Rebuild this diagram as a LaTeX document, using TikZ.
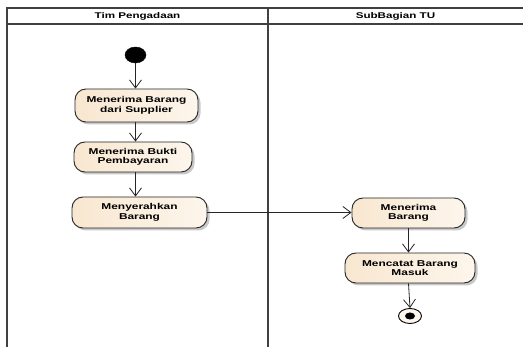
\documentclass[tikz,border=0pt]{standalone}
\usepackage{fontspec}
\setmainfont{Liberation Sans}
\newfontfamily\lab[FakeStretch=1.4]{Liberation Sans Bold}
\usetikzlibrary{arrows.meta,shadows,shapes.geometric}
\definecolor{lane}{HTML}{404040}
\definecolor{actfill}{HTML}{F8E7D0}
\definecolor{actlight}{HTML}{FDF6EC}
\tikzset{
  lanerule/.style={draw=lane, line width=1.6pt},
  action/.style={draw=black!85, line width=0.9pt, rounded corners=11pt,
    left color=actfill, right color=actlight,
    drop shadow={shadow xshift=2.5pt, shadow yshift=-2.5pt, fill=black!35, opacity=0.6},
    align=center, inner sep=0pt, font=\lab\fontsize{8.5}{9.6}\selectfont},
  flow/.style={draw=black!85, line width=0.8pt,
    -{Straight Barb[length=8pt,width=12pt,line width=0.8pt]}},
  header/.style={font=\lab\fontsize{8.3}{9}\selectfont}
}
\begin{document}
\begin{tikzpicture}[x=1pt,y=-1pt]
\useasboundingbox (0,0) rectangle (523,347);
\fill[white] (0,0) rectangle (523,347);

% swimlane frame
\coordinate (tl) at (7,8);
\coordinate (tr) at (523,8);
\coordinate (hl) at (7,24);
\coordinate (hr) at (523,24);
\coordinate (bl) at (7,347);
\coordinate (dt) at (268,8);
\coordinate (db) at (268,347);
\draw[lanerule] (bl) -- (tl) -- (tr);
\draw[lanerule] (hl) -- (hr);
\draw[lanerule] (dt) -- (db);
\node[header] (lane1) at (137.5,16) {Tim Pengadaan};
\node[header] (lane2) at (395.5,16) {SubBagian TU};

% initial node
\node[ellipse, fill=black, draw=black, minimum width=21pt, minimum height=16pt, inner sep=0pt] (start) at (135.5,55) {};

% actions
\node[action, minimum width=123pt, minimum height=33pt] (a1) at (136.5,105.5) {Menerima Barang\\dari Supplier};
\node[action, minimum width=118pt, minimum height=30pt] (a2) at (133,157) {Menerima Bukti\\Pembayaran};
\node[action, minimum width=135pt, minimum height=31pt] (a3) at (139.5,212.5) {Menyerahkan\\Barang};
\node[action, minimum width=113pt, minimum height=30pt] (a4) at (408.5,213) {Menerima\\Barang};
\node[action, minimum width=130pt, minimum height=30pt] (a5) at (410,268) {Mencatat Barang\\Masuk};

% final node
\node[ellipse, draw=black, line width=0.9pt, fill=actlight, minimum width=23pt, minimum height=15pt, inner sep=0pt] (end) at (410,316) {};
\node[ellipse, fill=black, minimum width=10pt, minimum height=7pt, inner sep=0pt] (endc) at (end.center) {};

% control flows
\draw[flow] (start.south) -- (start.south |- a1.north);
\draw[flow] (start.south |- a1.south) -- (start.south |- a2.north);
\draw[flow] (start.south |- a2.south) -- (start.south |- a3.north);
\draw[flow] (a3.east) -- (a4.west |- a3.east);
\draw[flow] (a4.south) -- (a4.south |- a5.north);
\draw[flow] (a4.south |- a5.south) -- (end.north);
\end{tikzpicture}
\end{document}
